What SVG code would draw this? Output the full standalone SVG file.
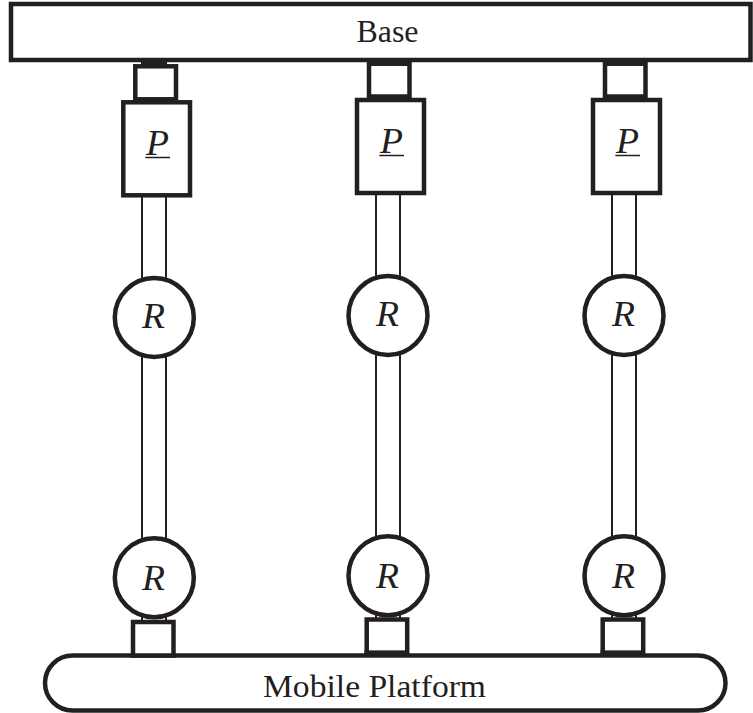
<svg xmlns="http://www.w3.org/2000/svg" width="753" height="713" viewBox="0 0 753 713">
<style>
.s{fill:#fff;stroke:#231f20;stroke-width:4.5}
.k{fill:#fff;stroke:#231f20;stroke-width:4.5}
.rod{stroke:#231f20;stroke-width:2;fill:none}
.u{stroke:#231f20;stroke-width:1.5;fill:none}
.t{font-family:"Liberation Serif","Times New Roman",serif;font-size:32px;fill:#231f20;text-anchor:middle}
.i{font-style:italic;font-size:35px}
</style>
<rect width="753" height="713" fill="#fff"/>
<g id="connectors">
<path class="rod" d="M142 58V66M166 58V66M142 195V280M166 195V280M142 355V540M166 355V540M142 615V622M166 615V622"/>
<path class="rod" d="M376 193V278M400 193V278M376 353V538M400 353V538M376 613V620M400 613V620"/>
<path class="rod" d="M612 193V278M636 193V278M612 353V538M636 353V538M612 613V620M636 613V620"/>
</g>
<g id="base"><rect class="s" x="11" y="4" width="739.500" height="56"/><text class="t" x="387.500" y="41.500" textLength="62" lengthAdjust="spacingAndGlyphs">Base</text></g>
<g id="platform"><rect class="s" x="45" y="655.500" width="680.500" height="55" rx="27.500"/><text class="t" x="374.500" y="697" textLength="223" lengthAdjust="spacingAndGlyphs">Mobile Platform</text></g>
<g id="slider-top-1"><path d="M141.500 59H166.500V65H141.500Z" fill="#231f20"/><rect class="k" x="135.300" y="66.300" width="40.700" height="33"/></g>
<g id="prismatic-1"><rect class="s" x="123.300" y="102.300" width="66.700" height="93"/><text class="t i" x="157.500" y="155" textLength="23" lengthAdjust="spacingAndGlyphs">P</text><path class="u" d="M145.300 157.500H170"/></g>
<g id="revolute-1a"><circle class="s" cx="154.300" cy="317.500" r="39.500"/><text class="t i" x="153.500" y="328.300" textLength="23" lengthAdjust="spacingAndGlyphs">R</text></g>
<g id="revolute-1b"><circle class="s" cx="154.300" cy="577.700" r="39.500"/><text class="t i" x="153.500" y="590" textLength="23" lengthAdjust="spacingAndGlyphs">R</text></g>
<g id="slider-bottom-1"><rect class="k" x="133" y="622" width="40.500" height="33.500"/></g>
<g id="slider-top-2"><rect class="k" x="369" y="63.500" width="40.500" height="33"/><path d="M367 60H411V66H367Z" fill="#231f20"/></g>
<g id="prismatic-2"><rect class="s" x="357" y="100" width="67" height="93"/><text class="t i" x="391.500" y="153" textLength="23" lengthAdjust="spacingAndGlyphs">P</text><path class="u" d="M379.300 155.500H404"/></g>
<g id="revolute-2a"><circle class="s" cx="388" cy="315.500" r="39.500"/><text class="t i" x="387.500" y="326.300" textLength="23" lengthAdjust="spacingAndGlyphs">R</text></g>
<g id="revolute-2b"><circle class="s" cx="388" cy="575.700" r="39.500"/><text class="t i" x="387.500" y="588.300" textLength="23" lengthAdjust="spacingAndGlyphs">R</text></g>
<g id="slider-bottom-2"><rect class="k" x="366.700" y="619.500" width="40.500" height="33.500"/><path d="M364.500 650.500H409V655H364.500Z" fill="#231f20"/></g>
<g id="slider-top-3"><rect class="k" x="605" y="63.500" width="40.500" height="33"/><path d="M603 60H647V66H603Z" fill="#231f20"/></g>
<g id="prismatic-3"><rect class="s" x="593" y="100" width="67" height="93"/><text class="t i" x="627.500" y="153" textLength="23" lengthAdjust="spacingAndGlyphs">P</text><path class="u" d="M615.300 155.500H640"/></g>
<g id="revolute-3a"><circle class="s" cx="624" cy="315.500" r="39.500"/><text class="t i" x="623.500" y="326.300" textLength="23" lengthAdjust="spacingAndGlyphs">R</text></g>
<g id="revolute-3b"><circle class="s" cx="624" cy="575.700" r="39.500"/><text class="t i" x="623.500" y="588.300" textLength="23" lengthAdjust="spacingAndGlyphs">R</text></g>
<g id="slider-bottom-3"><rect class="k" x="602.700" y="619.500" width="40.500" height="33.500"/><path d="M600.500 650.500H645V655H600.500Z" fill="#231f20"/></g>
</svg>
